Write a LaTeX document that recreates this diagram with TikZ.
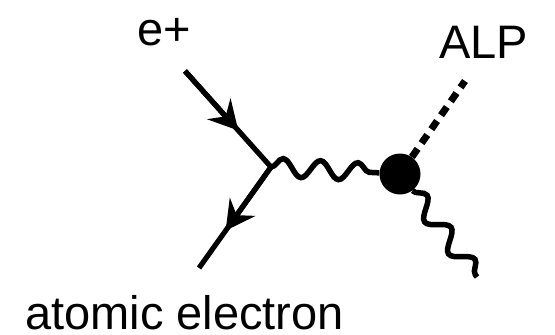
\documentclass[tikz,border=0pt]{standalone}
\usepackage{fontspec}
\setmainfont{Liberation Sans}
\usetikzlibrary{decorations.pathmorphing,arrows.meta,calc}
\begin{document}
\begin{tikzpicture}[x=1pt,y=-1pt,
  fermion/.style={line width=5.2pt},
  fermionarrow/.style={line width=5.2pt, -{Stealth[length=29pt,width=31pt,inset=10pt]}},
  photon/.style={line width=5.5pt, decorate,
    decoration={snake, segment length=#1, amplitude=9pt}},
  alpline/.style={line width=7pt, dash pattern=on 10pt off 7pt},
  blobnode/.style={circle, fill=black, minimum size=41pt, inner sep=0pt},
  lbl/.style={anchor=base west, inner sep=0pt, font=\fontsize{47}{50}\selectfont}
]
\useasboundingbox (0,0) rectangle (555,335);
\coordinate (v) at (271,167);
\coordinate (ein) at (185,71);
\coordinate (eout) at (199,268);
\coordinate (a) at (465,81);
\coordinate (g) at (477,277);
\coordinate (m1) at ($(ein)!0.62!(v)$);
\coordinate (m2) at ($(v)!0.63!(eout)$);
\node[blobnode] (b) at (400,174) {};
\draw[fermion] (ein) -- (v) -- (eout);
\draw[fermionarrow] (ein) -- (m1);
\draw[fermionarrow] (v) -- (m2);
\draw[photon=37.5pt] (v) -- (b);
\draw[alpline] (b) -- (a);
\draw[photon=40pt] (b) -- (g);
\node[lbl] (tep) at (137,45) {e+};
\node[lbl] (talp) at (439,58) {ALP};
\node[lbl] (tel) at (25,329) {atomic electron};
\end{tikzpicture}
\end{document}
